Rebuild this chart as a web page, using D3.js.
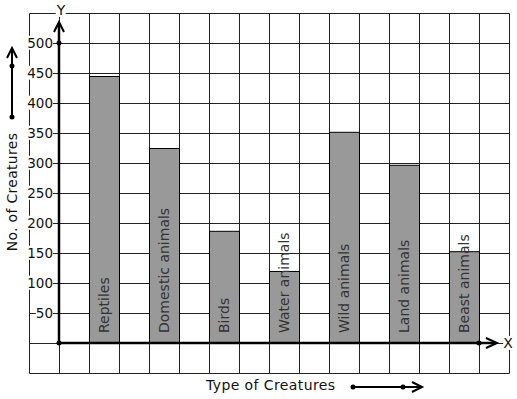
<!DOCTYPE html>
<html>
<head>
<meta charset="utf-8">
<script src="https://d3js.org/d3.v7.min.js"></script>
<style>
  body { margin: 0; background: #fff; }
  text { font-family: "DejaVu Sans", sans-serif; }
</style>
</head>
<body>
<script>
// chart data
var creatures = ["Reptiles", "Domestic animals", "Birds", "Water animals",
                 "Wild animals", "Land animals", "Beast animals"];
var counts = [445, 325, 187, 120, 352, 297, 153];
var tickValues = [50, 100, 150, 200, 250, 300, 350, 400, 450, 500];

var plot = d3.select("body")
             .append("svg")
             .attr("width", 517)
             .attr("height", 399);

// value scale, grid runs from -50 to 550
var y = d3.scaleLinear().domain([-50, 550]).range([373, 13]);

// grid column scale, 16 columns
var gx = d3.scaleLinear().domain([0, 16]).range([29, 509]);

// category scale for the bars
var x = d3.scaleBand()
          .domain(creatures)
          .range([59, 509])
          .paddingInner(0.5)
          .paddingOuter(0.5);

// grid
var grid = plot.append("g").attr("transform", "translate(0.5,0.5)");
grid.selectAll("line.v")
    .data(d3.range(0, 17))
    .enter()
    .append("line")
    .attr("x1", function(d){return gx(d);})
    .attr("x2", function(d){return gx(d);})
    .attr("y1", y(550))
    .attr("y2", y(-50))
    .attr("stroke", "#222")
    .attr("stroke-width", 1);
grid.selectAll("line.h")
    .data(d3.range(-50, 551, 50))
    .enter()
    .append("line")
    .attr("x1", gx(0))
    .attr("x2", gx(16))
    .attr("y1", function(d){return y(d);})
    .attr("y2", function(d){return y(d);})
    .attr("stroke", "#222")
    .attr("stroke-width", 1);

// bars
plot.append("g")
    .attr("transform", "translate(0.5,0.5)")
    .selectAll("rect")
    .data(counts)
    .enter()
    .append("rect")
    .attr("x", function(d, i){return x(creatures[i]);})
    .attr("y", function(d){return y(d);})
    .attr("width", x.bandwidth())
    .attr("height", function(d){return y(0) - y(d);})
    .attr("fill", "#999999")
    .attr("stroke", "#000")
    .attr("stroke-width", 1);

// bar labels, written upwards
plot.selectAll("text.bar")
    .data(creatures)
    .enter()
    .append("text")
    .attr("transform", function(d){
        return "translate(" + (x(d) + x.bandwidth() / 2 + 5) + "," + (y(0) - 10) + ") rotate(-90)";
    })
    .text(function(d){return d;})
    .style("font-size", "14px")
    .attr("fill", "#333");

// helper: text with a white box behind it
function boxedText(g, txt, px, py, anchor, size) {
    var t = g.append("text")
             .attr("x", px)
             .attr("y", py)
             .attr("dy", "0.35em")
             .attr("text-anchor", anchor)
             .style("font-size", size)
             .attr("fill", "#111")
             .text(txt);
    var b = t.node().getBBox();
    g.insert("rect", function(){return t.node();})
     .attr("x", b.x)
     .attr("y", b.y + 1)
     .attr("width", b.width)
     .attr("height", b.height - 2)
     .attr("fill", "#fff");
}

// tick labels
var ticks = plot.append("g");
tickValues.forEach(function(v){
    boxedText(ticks, v, 53, y(v), "end", "13.5px");
});

// axes
var axes = plot.append("g").attr("stroke", "#000").attr("fill", "none");
axes.append("line")
    .attr("x1", 59).attr("x2", 59)
    .attr("y1", y(0)).attr("y2", 23)
    .attr("stroke-width", 2.5);
axes.append("path")
    .attr("d", "M54,32L59,22L64,32")
    .attr("stroke-width", 2);
axes.append("line")
    .attr("x1", 59).attr("x2", 496)
    .attr("y1", y(0)).attr("y2", y(0))
    .attr("stroke-width", 2.5);
axes.append("path")
    .attr("d", "M486,338L497,343L486,348")
    .attr("stroke-width", 2);

// axis dots
plot.selectAll("circle.axis")
    .data([[59, y(500)], [59, y(0)], [479, y(0)]])
    .enter()
    .append("circle")
    .attr("cx", function(d){return d[0];})
    .attr("cy", function(d){return d[1];})
    .attr("r", 2.5)
    .attr("fill", "#000");

// axis letters
boxedText(plot, "Y", 61, 10, "middle", "14px");
boxedText(plot, "X", 508, y(0), "middle", "14px");

// axis titles
plot.append("text")
    .attr("transform", "translate(17,192) rotate(-90)")
    .attr("text-anchor", "middle")
    .style("font-size", "14px")
    .style("letter-spacing", "0.3px")
    .attr("fill", "#111")
    .text("No. of Creatures");
plot.append("text")
    .attr("x", 206)
    .attr("y", 390)
    .style("font-size", "14px")
    .style("letter-spacing", "0.4px")
    .attr("fill", "#111")
    .text("Type of Creatures");

// little direction arrows next to the titles
var arrows = plot.append("g").attr("stroke", "#000").attr("fill", "none").attr("stroke-width", 2);
arrows.append("line").attr("x1", 12).attr("x2", 12).attr("y1", 117).attr("y2", 48);
arrows.append("path").attr("d", "M7,58L12,48L17,58");
arrows.append("line").attr("x1", 353).attr("x2", 422).attr("y1", 387).attr("y2", 387);
arrows.append("path").attr("d", "M412,382L422,387L412,392");
plot.selectAll("circle.arrow")
    .data([[12, 66], [12, 117], [353, 387], [403, 387]])
    .enter()
    .append("circle")
    .attr("cx", function(d){return d[0];})
    .attr("cy", function(d){return d[1];})
    .attr("r", 2.5)
    .attr("fill", "#000");
</script>
</body>
</html>
